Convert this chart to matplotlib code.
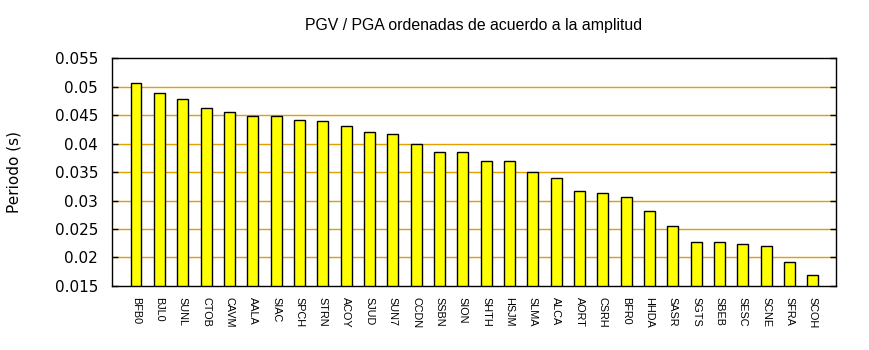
import matplotlib
matplotlib.use("Agg")
import matplotlib.pyplot as plt
import numpy as np

# Estaciones ordenadas por amplitud
stations = ["BFB0", "BJL0", "SUNL", "CTOB", "CAVM", "AALA", "SIAC", "SPCH",
            "STRN", "ACOY", "SJUD", "SUN7", "CCDN", "SSBN", "SION", "SHTH",
            "HSJM", "SLMA", "ALCA", "AORT", "CSRH", "BFR0", "HHDA", "SASR",
            "SGTS", "SBEB", "SESC", "SCNE", "SFRA", "SCOH"]
periods = [0.0506, 0.0488, 0.0479, 0.0462, 0.0455, 0.0449, 0.0448, 0.0442,
           0.0439, 0.0430, 0.0420, 0.0416, 0.0400, 0.0386, 0.0385, 0.0369,
           0.0369, 0.0350, 0.0339, 0.0316, 0.0313, 0.0306, 0.0281, 0.0255,
           0.0228, 0.0227, 0.0223, 0.0221, 0.0192, 0.0169]
yticks = [0.015, 0.02, 0.025, 0.03, 0.035, 0.04, 0.045, 0.05, 0.055]
ytick_labels = ["0.015", "0.02", "0.025", "0.03", "0.035", "0.04", "0.045", "0.05", "0.055"]

fig = plt.figure(figsize=(8.7, 3.5), dpi=100)
ax = fig.add_axes([0.1287, 0.183, 0.832, 0.651])

x = np.arange(len(stations))

# grid lines (only the inner ones, like gnuplot)
for y in yticks[1:-1]:
    ax.axhline(y, color="#e0a000", lw=1.0, zorder=1)

ax.bar(x, periods, width=0.47, color="#ffff00", edgecolor="black",
       linewidth=1.0, zorder=2)

ax.set_xlim(-1.03, 29.98)
ax.set_ylim(0.015, 0.055)
ax.set_yticks(yticks)
ax.set_yticklabels(ytick_labels, fontsize=11, family="DejaVu Sans")
ax.tick_params(axis="y", direction="in", length=4, width=1, right=True, pad=10)
ax.set_xticks(x)
ax.set_xticklabels(stations, rotation=-90, fontsize=7.8, family="Liberation Sans")
ax.tick_params(axis="x", length=0, pad=8)
for s in ax.spines.values():
    s.set_linewidth(1.0)

ax.set_ylabel("Periodo (s)", fontsize=11, family="DejaVu Sans", labelpad=24)
ax.set_title("PGV / PGA ordenadas de acuerdo a la amplitud", fontsize=11.4,
             family="Liberation Sans", pad=20)

fig.savefig("out.png", dpi=100)
